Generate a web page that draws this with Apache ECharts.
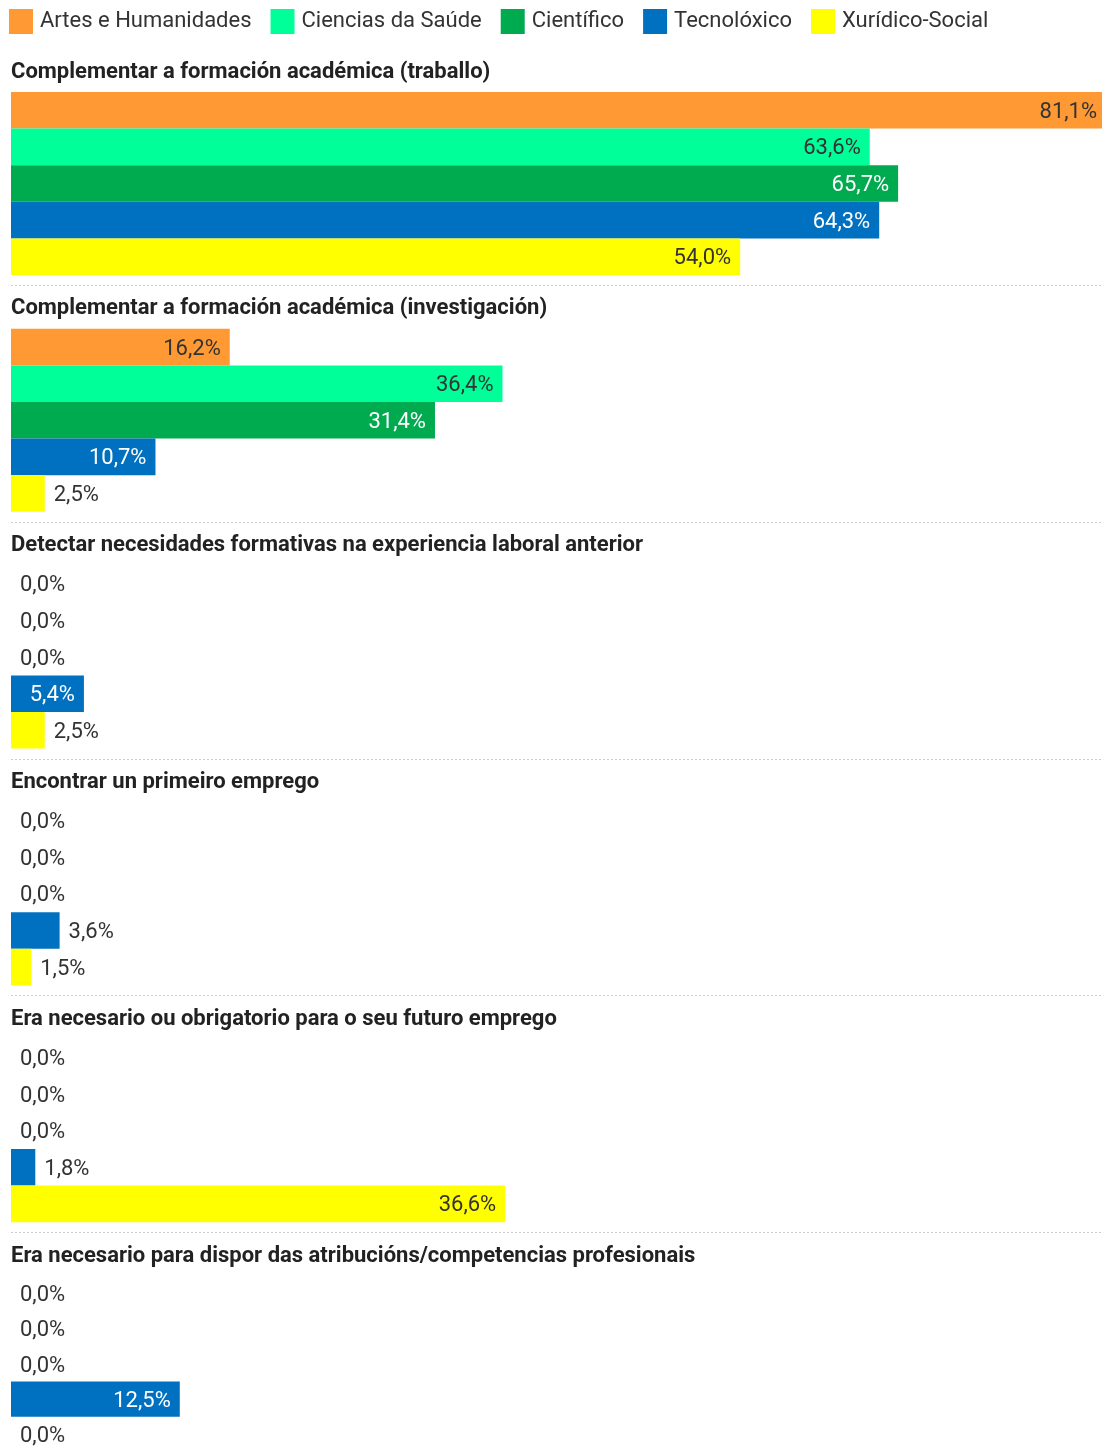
<!DOCTYPE html>
<html>
<head>
<meta charset="utf-8">
<script src="https://cdn.jsdelivr.net/npm/echarts@6/dist/echarts.min.js"></script>
<style>html,body{margin:0;padding:0;background:#fff}#c{width:1102px;height:1452px}</style>
</head>
<body>
<div id="c"></div>
<script>
const disciplines = ['Artes e Humanidades', 'Ciencias da Saúde', 'Científico', 'Tecnolóxico', 'Xurídico-Social'];
const groups = [
  'Complementar a formación académica (traballo)',
  'Complementar a formación académica (investigación)',
  'Detectar necesidades formativas na experiencia laboral anterior',
  'Encontrar un primeiro emprego',
  'Era necesario ou obrigatorio para o seu futuro emprego',
  'Era necesario para dispor das atribucións/competencias profesionais'
];
// values per group, in discipline order
const valTraballo = [81.1, 63.6, 65.7, 64.3, 54.0];
const valInvestigacion = [16.2, 36.4, 31.4, 10.7, 2.5];
const valDetectar = [0.0, 0.0, 0.0, 5.4, 2.5];
const valPrimeiro = [0.0, 0.0, 0.0, 3.6, 1.5];
const valNecesario = [0.0, 0.0, 0.0, 1.8, 36.6];
const valAtribucions = [0.0, 0.0, 0.0, 12.5, 0.0];
const groupValues = [valTraballo, valInvestigacion, valDetectar, valPrimeiro, valNecesario, valAtribucions];

const colors = ['#FF9933', '#00FF99', '#00AA4F', '#0070C0', '#FFFF00'];
const insideLabelColors = ['#333333', '#333333', '#ffffff', '#ffffff', '#333333'];

const FONT = 'Roboto';
const step = 236.8;
const barTop0 = 92;
const barH = 36.6;

const grids = [], xAxes = [], yAxes = [], titles = [], series = [], graphics = [];
groups.forEach((g, gi) => {
  const top = barTop0 + step * gi;
  grids.push({ left: 11, right: 0, top: top, height: barH * 5 });
  xAxes.push({ type: 'value', gridIndex: gi, min: 0, max: 80.8, show: false });
  yAxes.push({ type: 'category', gridIndex: gi, data: disciplines, inverse: true, show: false });
  titles.push({
    text: g, left: 11, top: top - 31, padding: 0,
    textStyle: { fontFamily: FONT, fontSize: 22, fontWeight: 'bold', color: '#222222' }
  });
  if (gi < groups.length - 1) {
    const y = Math.round(top + barH * 5 + 10) + 0.5;
    graphics.push({
      type: 'line', shape: { x1: 11, y1: y, x2: 1102, y2: y },
      style: { stroke: '#cccccc', lineWidth: 1, lineDash: [2, 2] }, silent: true
    });
  }
  disciplines.forEach((d, di) => {
    const data = disciplines.map((_, k) => {
      if (k !== di) return '-';
      const v = groupValues[gi][di];
      const inside = v >= 5;
      return {
        value: v,
        label: {
          position: inside ? 'insideRight' : 'right',
          color: inside ? insideLabelColors[di] : '#333333'
        }
      };
    });
    series.push({
      name: d, type: 'bar', xAxisIndex: gi, yAxisIndex: gi,
      stack: 'g' + gi, barCategoryGap: '0%', barWidth: '100%', clip: false,
      itemStyle: { color: colors[di] },
      label: {
        show: true, distance: 9, offset: [0, 2], fontFamily: FONT, fontSize: 22,
        formatter: p => p.value.toFixed(1).replace('.', ',') + '%'
      },
      data: data,
      silent: true, animation: false
    });
  });
});

const chart = echarts.init(document.getElementById('c'));
chart.setOption({
  animation: false,
  color: colors,
  title: titles,
  legend: {
    data: disciplines, left: 9, top: 9, itemWidth: 24, itemHeight: 25, itemGap: 19,
    icon: 'rect', padding: 0,
    textStyle: { fontFamily: FONT, fontSize: 22, color: '#333333', padding: [6, 0, 0, 2] }
  },
  grid: grids,
  xAxis: xAxes,
  yAxis: yAxes,
  series: series,
  graphic: graphics
});
</script>
</body>
</html>
